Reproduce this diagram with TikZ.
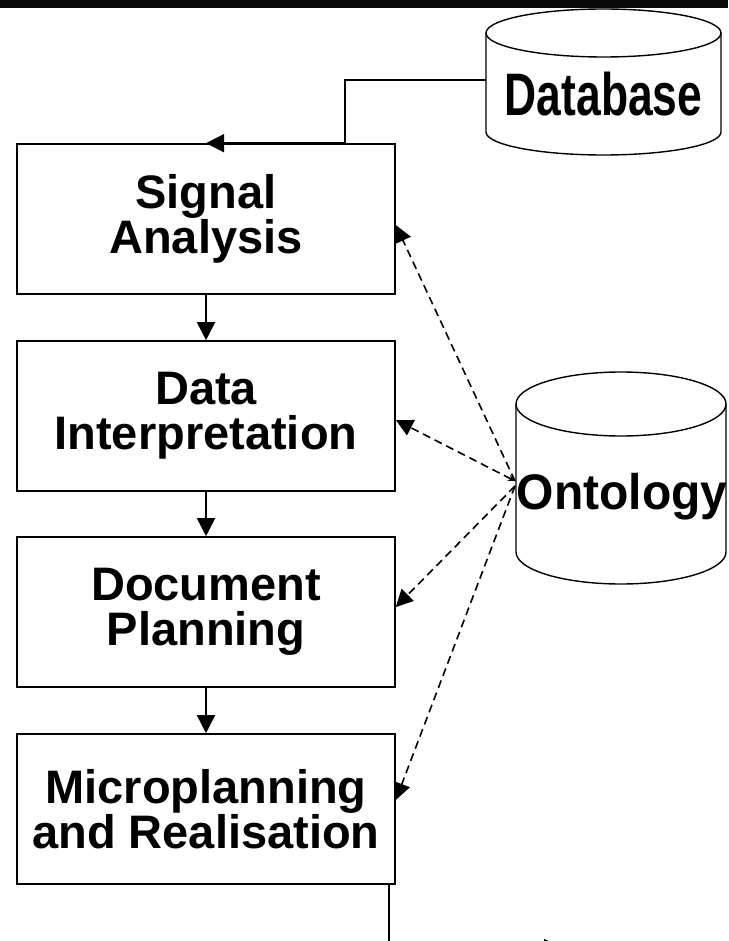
\documentclass[tikz,border=0pt]{standalone}
\usepackage{fontspec}
\setmainfont{Liberation Sans}
\usetikzlibrary{arrows.meta}
\tikzset{stage/.style={ % the four processing boxes
           draw, line width=1.6pt,
           minimum width=378pt, minimum height=150pt,
           inner sep=0pt, align=center,
           font=\fontsize{47}{45}\selectfont\bfseries},
         store/.style={line width=1.4pt}, % cylinder outlines
         flow/.style={line width=1.6pt,
           -{Triangle[length=18pt,width=18pt]}},
         lookup/.style={line width=1.6pt, dash pattern=on 8pt off 5pt,
           -{Triangle[length=17pt,width=17pt]}}}

\begin{document}
\begin{tikzpicture}[x=1pt,y=-1pt]
\useasboundingbox (0,0) rectangle (728,941);
\fill[black!96] (0,0) rectangle (728,8);

% stages
\node[stage] (sig)   at (206,219) {Signal\\Analysis};
\node[stage] (inter) at (206,416) {Data\\Interpretation};
\node[stage] (doc)   at (206,612) {Document\\Planning};
\node[stage] (micro) at (206,809) {Microplanning\\and Realisation};

% database
\draw[store] (603.5,33) ellipse (117.5 and 24);
\draw[store] (486,33) -- (486,132) arc (180:0:117.5 and 23) -- (721,33);
\node[anchor=base, xscale=0.74, font=\fontsize{60}{60}\selectfont\bfseries] (db) at (603.5,116) {Database};

% ontology
\draw[store] (621,404) ellipse (105 and 32);
\draw[store] (516,404) -- (516,552) arc (180:0:105 and 32) -- (726,404);
\node[anchor=base, xscale=0.96, font=\fontsize{50}{50}\selectfont\bfseries] (ont) at (622,509) {Ontology};

\coordinate (dbin) at (486,80);
\coordinate (bend) at (345,80);
\coordinate (hub) at (515,481);
\coordinate (out) at (389,948);
\coordinate (next) at (562,948);

\draw[flow] (dbin) -- (bend) -- (bend |- sig.north) -- (sig.north);
\draw[flow] (sig) -- (inter);
\draw[flow] (inter) -- (doc);
\draw[flow] (doc) -- (micro);
\draw[flow] (micro.south -| out) -- (out) -- (next);

\draw[lookup] (hub) -- ([yshift=-6pt]sig.east);
\draw[lookup, {Stealth[length=7pt,width=7pt]}-{Triangle[length=17pt,width=17pt]}] (hub) -- ([yshift=-4pt]inter.east);
\draw[lookup] ([yshift=-5pt]hub) -- ([yshift=5pt]doc.east);
\draw[lookup] ([yshift=-5pt]hub) -- ([yshift=9pt]micro.east);
\end{tikzpicture}
\end{document}
